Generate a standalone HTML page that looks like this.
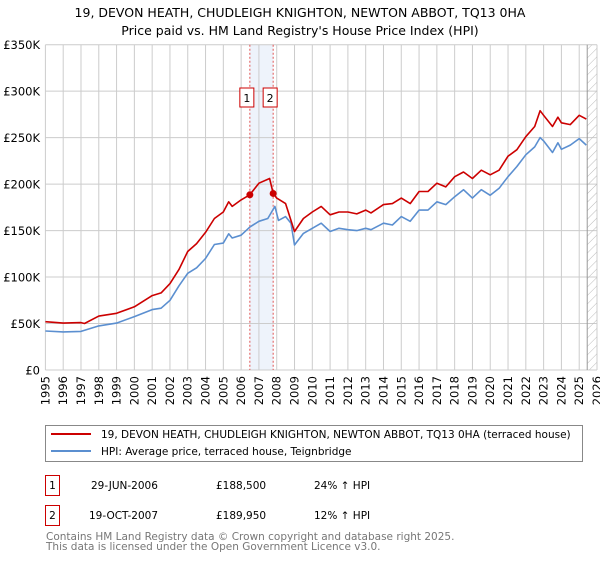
<!DOCTYPE html>
<html><head><meta charset="utf-8"><style>
body{margin:0;background:#fff;font-family:"Liberation Sans","DejaVu Sans",sans-serif;}
svg text{font-family:"DejaVu Sans","Liberation Sans",sans-serif;}
</style></head><body>
<svg id="c" width="600" height="560" xmlns="http://www.w3.org/2000/svg">
<text x="300" y="17" text-anchor="middle" font-size="12.5">19, DEVON HEATH, CHUDLEIGH KNIGHTON, NEWTON ABBOT, TQ13 0HA</text>
<text x="300" y="35" text-anchor="middle" font-size="12.5">Price paid vs. HM Land Registry's House Price Index (HPI)</text>
<g id="plot"></g>
<g>
<rect x="45.5" y="425.5" width="537" height="36" fill="#fff" stroke="#888"/>
<line x1="51" y1="434" x2="91" y2="434" stroke="#cc0000" stroke-width="2"/>
<text x="101" y="438" font-size="10.5">19, DEVON HEATH, CHUDLEIGH KNIGHTON, NEWTON ABBOT, TQ13 0HA (terraced house)</text>
<line x1="51" y1="451" x2="91" y2="451" stroke="#5b8fd0" stroke-width="2"/>
<text x="101" y="455" font-size="10.5">HPI: Average price, terraced house, Teignbridge</text>
</g>
<g font-size="10.5">
<rect x="45.5" y="475.5" width="14" height="20" fill="#fff" stroke="#cc0000"/><text x="52.5" y="489" text-anchor="middle">1</text>
<text x="91" y="489">29-JUN-2006</text><text x="216" y="489">£188,500</text><text x="314" y="489">24% ↑ HPI</text>
<rect x="45.5" y="505.5" width="14" height="20" fill="#fff" stroke="#cc0000"/><text x="52.5" y="519" text-anchor="middle">2</text>
<text x="89" y="519">19-OCT-2007</text><text x="216" y="519">£189,950</text><text x="314" y="519">12% ↑ HPI</text>
</g>
<text x="46" y="540" font-size="10.5" fill="#777">Contains HM Land Registry data © Crown copyright and database right 2025.</text>
<text x="46" y="550" font-size="10.5" fill="#777">This data is licensed under the Open Government Licence v3.0.</text>
</svg>
<script>
const yTicks=[0,50000,100000,150000,200000,250000,300000,350000];
const yTickLabels=["£0","£50K","£100K","£150K","£200K","£250K","£300K","£350K"];
const years=[1995,1996,1997,1998,1999,2000,2001,2002,2003,2004,2005,2006,2007,2008,2009,2010,2011,2012,2013,2014,2015,2016,2017,2018,2019,2020,2021,2022,2023,2024,2025,2026];
const propT=[1995,1996,1997,1997.2,1998,1999,2000,2001,2001.5,2002,2002.5,2003,2003.5,2004,2004.5,2005,2005.3,2005.5,2006,2006.49,2007,2007.6,2007.8,2008,2008.5,2009,2009.5,2010,2010.5,2011,2011.5,2012,2012.5,2013,2013.3,2014,2014.5,2015,2015.5,2016,2016.5,2017,2017.5,2018,2018.5,2019,2019.5,2020,2020.5,2021,2021.5,2022,2022.5,2022.8,2023,2023.5,2023.8,2024,2024.5,2025,2025.4];
const propV=[52,50.5,51,50,58,61,68,80,83,93,108,127.5,136,148,163,170,181,176,183,188.5,201,206,190,185,179,149,163,170,176,167,170,170,168,172,169,178,179,185,179,192,192,201,197,208,213,206,215,210,215,230,237,251,262,279,274,262,272,266,264,274,270];
const hpiT=[1995,1996,1997,1998,1999,2000,2001,2001.5,2002,2002.5,2003,2003.5,2004,2004.5,2005,2005.3,2005.5,2006,2006.5,2007,2007.5,2007.9,2008.1,2008.5,2008.8,2009,2009.5,2010,2010.5,2011,2011.5,2012,2012.5,2013,2013.3,2014,2014.5,2015,2015.5,2016,2016.5,2017,2017.5,2018,2018.5,2019,2019.5,2020,2020.5,2021,2021.5,2022,2022.5,2022.8,2023,2023.5,2023.8,2024,2024.5,2025,2025.4];
const hpiV=[42,41,41.5,47.5,50.5,57.5,65,66.5,75,90.5,104,110,120,135,136.5,146.5,142,145,154,160,163,176,161,165,158,134.5,147,152.5,158,149,152.5,151,150,152.5,151,158,156,165,160,172,172,181,178,186.5,194,185,194,188,195.5,208,219,231.5,240,250,246.5,234,244.5,237.5,242,249,242];
const saleT=[2006.49,2007.8];
const saleV=[188500,189950];
const saleLabels=["1","2"];

const NS="http://www.w3.org/2000/svg";
const L=45.4,R=597,T=44.7,B=370;
const x=t=>L+(t-1995)*(R-L)/31;
const y=v=>B-v*(B-T)/350000;
const g=document.getElementById('plot');
function el(tag,attrs,parent){const e=document.createElementNS(NS,tag);for(const k in attrs)e.setAttribute(k,attrs[k]);(parent||g).appendChild(e);return e;}
const sh=el('rect',{x:x(saleT[0]),y:T,width:x(saleT[1])-x(saleT[0]),height:B-T,fill:'#eef3fb'});


years.forEach(yr=>{
 const l=el('line',{x1:x(yr),x2:x(yr),y1:T,y2:B,stroke:'#cccccc','stroke-width':1});
 
 
 const tx=el('text',{x:0,y:0,'font-size':11.5,'text-anchor':'end',transform:`translate(${x(yr)+4},${B+6}) rotate(-90)`});
 tx.textContent=yr;
 
 
});
yTicks.forEach((v,i)=>{
 const l=el('line',{x1:L,x2:R,y1:y(v),y2:y(v),stroke:'#cccccc','stroke-width':1});
 
 
 const tx=el('text',{x:40,y:y(v)+4.5,'font-size':11.5,'text-anchor':'end'});
 tx.textContent=yTickLabels[i];
 
 
});
const defs=el('defs',{});
const pat=el('pattern',{id:'h',width:6,height:6,patternUnits:'userSpaceOnUse',patternTransform:'rotate(45)'},defs);
el('line',{x1:0,y1:0,x2:0,y2:6,stroke:'#bbb','stroke-width':1},pat);
const xe=x(2025.45);
const hr=el('rect',{x:xe,y:T,width:R-xe,height:B-T,fill:'url(#h)'});


const hl=el('line',{x1:xe,x2:xe,y1:T,y2:B,stroke:'#999','stroke-width':1});


saleT.forEach((t,i)=>{
 const l=el('line',{x1:x(t),x2:x(t),y1:T,y2:B,stroke:'#e05555','stroke-width':1,'stroke-dasharray':'2,2'});
 
 
 const r=el('rect',{x:x(t)-10,y:88,width:14,height:19,fill:'#fff',stroke:'#cc0000'});
 
 
 const tx=el('text',{x:x(t)-3,y:102,'font-size':11,'text-anchor':'middle'});
 tx.textContent=saleLabels[i];
 
 
});
function path(ts,vs,color,name){
 const d=ts.map((t,i)=>(i?'L':'M')+x(t).toFixed(1)+','+y(vs[i]*1000).toFixed(1)).join('');
 const p=el('path',{d,fill:'none',stroke:color,'stroke-width':1.6,'stroke-linejoin':'round'});
 
 
}
path(hpiT,hpiV,'#5b8fd0','hpi-line');
path(propT,propV,'#cc0000','property-price-line');
saleT.forEach((t,i)=>{
 const c=el('circle',{cx:x(t),cy:y(saleV[i]),r:3.5,fill:'#cc0000'});
 
 
});
</script>
</body></html>
